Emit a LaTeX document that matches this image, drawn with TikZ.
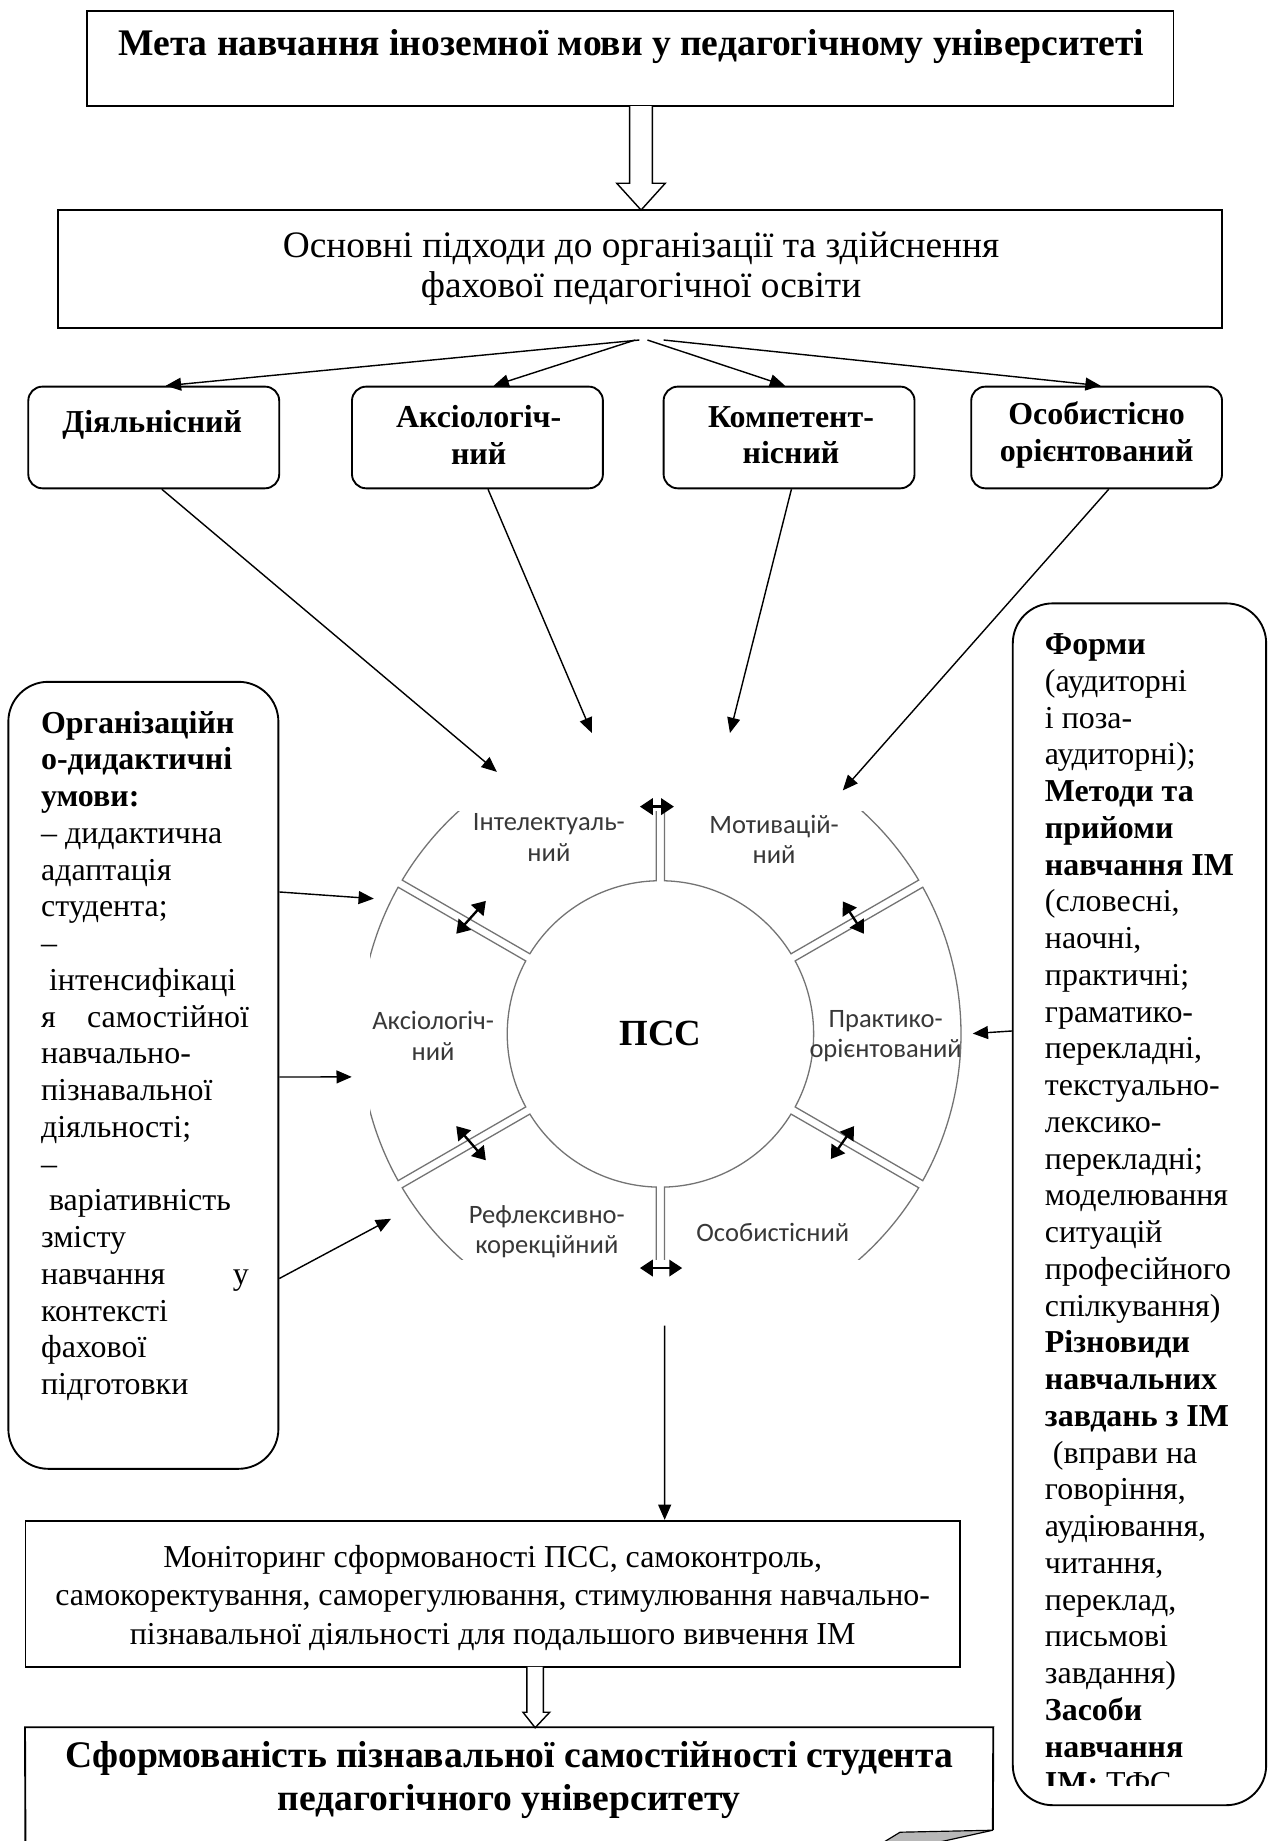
\documentclass[tikz,border=0pt]{standalone}
\usepackage{fontspec}
\setmainfont{Liberation Serif}
\newfontfamily\calib{Carlito}
\usetikzlibrary{arrows.meta,calc,fit}
\tikzset{
  boxln/.style={draw, line width=0.8pt, inner sep=0pt},
  rnd/.style={boxln, rounded corners=6pt},
  bigrnd/.style={boxln, rounded corners=17pt},
  arr/.style={-{Triangle[length=6.5pt,width=5.5pt]}, line width=0.6pt},
  darr/.style={{Triangle[length=5.5pt,width=7pt]}-{Triangle[length=5.5pt,width=7pt]}, line width=1pt},
  seg/.style={draw=black!55, line width=0.55pt},
  lab/.style={font=\calib\fontsize{11.3}{12.9}\selectfont, text=black!78, align=center, inner sep=0pt},
  hollow/.style={draw, line width=0.6pt, fill=white},
  ttl/.style={font=\bfseries\fontsize{16}{18.3}\selectfont, align=center, inner sep=0pt},
  btxt/.style={font=\bfseries\fontsize{13.6}{15.6}\selectfont, align=center, inner sep=0pt},
  body/.style={font=\fontsize{13.6}{16.5}\selectfont, align=center, inner sep=0pt},
}
\begin{document}
\begin{tikzpicture}[x=0.5pt,y=-0.5pt]
\useasboundingbox (0,0) rectangle (1081,1568);
\fill[white] (0,0) rectangle (1081,1568);

% top boxes
\node[boxln, fit={(74.4,9.1) (999.5,90.3)}] (top) {};
\node[ttl] (toptxt) at (537.7,39.7) {Мета навчання іноземної мови у педагогічному університеті};
\node[boxln, fit={(49.6,178.9) (1040.9,279.1)}] (sec) {};
\node[font=\fontsize{15.9}{17}\selectfont, align=center, inner sep=0pt] (sectxt) at (546,228.5)
  {Основні підходи до організації та здійснення\\фахової педагогічної освіти};
\draw[hollow] (536.3,90.3) -- (536.3,156.1) -- (525.3,156.1) -- (546,178.9) -- (566.6,156.1) -- (555.6,156.1) -- (555.6,90.3);

% approach boxes
\node[rnd, fit={(24.1,329.3) (237.8,415.9)}] (b1) {};
\node[rnd, fit={(299.8,329.3) (513.5,415.9)}] (b2) {};
\node[rnd, fit={(565.2,329.3) (778.9,415.9)}] (b3) {};
\node[rnd, fit={(827.2,329.3) (1040.8,415.9)}] (b4) {};
\node[btxt] (t1) at (129.6,362) {Діяльнісний};
\node[btxt] (t2) at (407.7,370.5) {Аксіологіч-\\ний};
\node[btxt] (t3) at (673.7,370.5) {Компетент-\\нісний};
\node[btxt] (t4) at (934,370.5) {Особистісно\\орієнтований};

\coordinate (o1) at (544.5,289.6);
\coordinate (o2) at (541,289.6);
\coordinate (o3) at (551.4,289.6);
\coordinate (o4) at (565.2,289.6);
\draw[arr] (o1) -- ($(b1.north)+(10.3,0)$);
\draw[arr] (o2) -- ($(b2.north)+(13.8,0)$);
\draw[arr] (o3) -- ($(b3.north)+(-3.4,0)$);
\draw[arr] (o4) -- ($(b4.north)+(3.4,0)$);

% ring
\begin{scope}
  \clip (315.2,691.3) rectangle (1000,1072.4);
  \begin{scope}[shift={(562.5,880.6)}]
    \foreach \a in {30,90,...,330}{
      \pgfmathsetmacro\ao{\a+0.78}
      \pgfmathsetmacro\bo{\a+60-0.78}
      \pgfmathsetmacro\ai{\a+1.54}
      \pgfmathsetmacro\bi{\a+60-1.54}
      \draw[seg] (\ao:256) arc[start angle=\ao, end angle=\bo, radius=256]
        -- (\bi:130.5) arc[start angle=\bi, end angle=\ai, radius=130.5] -- cycle;
    }
  \end{scope}
\end{scope}
\node[circle, minimum size=130.5pt, inner sep=0pt, font=\bfseries\fontsize{15.7}{18}\selectfont] (pss) at (562.5,880.6) {ПСС};

\node[lab] (lInt) at (467.5,713.2) {Інтелектуаль-\\ний};
\node[lab] (lMot) at (659.3,715) {Мотивацій-\\ний};
\node[lab] (lAks) at (368.9,882.2) {Аксіологіч-\\ний};
\node[lab] (lPr) at (754.3,882.5) {Практико-\\орієнтований};
\node[lab] (lRef) at (465.7,1049) {Рефлексивно-\\корекційний};
\node[lab] (lOs) at (658.2,1049.8) {Особистісний};

% double arrows in the ring
\coordinate (dA1) at (545,687);   \coordinate (dA2) at (574,687);
\coordinate (dB1) at (545,1080);  \coordinate (dB2) at (581,1080);
\coordinate (dC1) at (388.6,795.3); \coordinate (dC2) at (413.8,767.3);
\coordinate (dD1) at (717.8,767.7); \coordinate (dD2) at (735.7,795.3);
\coordinate (dE1) at (388.6,959.1); \coordinate (dE2) at (413.8,988.2);
\coordinate (dF1) at (727.4,959.1); \coordinate (dF2) at (707.7,987.1);
\draw[darr] (dA1) -- (dA2);
\draw[darr] (dB1) -- (dB2);
\draw[darr] (dC1) -- (dC2);
\draw[darr] (dD1) -- (dD2);
\draw[darr] (dE1) -- (dE2);
\draw[darr] (dF1) -- (dF2);

% arrows from approaches to ring
\coordinate (e1) at (423.2,657.4);
\coordinate (e2) at (504.1,624.3);
\coordinate (e3) at (621.7,624.3);
\coordinate (e4) at (717.8,673.2);
\draw[arr] ($(b1.south)+(6.9,0)$) -- (e1);
\draw[arr] ($(b2.south)+(9,0)$) -- (e2);
\draw[arr] ($(b3.south)+(2,0)$) -- (e3);
\draw[arr] ($(b4.south)+(10.3,0)$) -- (e4);

% left box
\node[bigrnd, fit={(7.1,580.7) (237.1,1251)}] (lbox) {};
\node[anchor=base west, inner sep=0pt, font=\fontsize{13.6}{15.65}\selectfont] (ltxt) at (34.6,624.4)
{\parbox[t]{88.5pt}{\raggedright\hyphenpenalty=10000\exhyphenpenalty=10000
\textbf{Організаційн}\\
\textbf{о-дидактичні}\\
\textbf{умови:}\\
– дидактична\\
адаптація\\
студента;\\
–\\
\hspace*{0.25em}інтенсифікаці\\
я\hfill самостійної\\
навчально-\\
пізнавальної\\
діяльності;\\
–\\
\hspace*{0.25em}варіативність\\
змісту\\
навчання\hfill у\\
контексті\\
фахової\\
підготовки}};
\coordinate (f1) at (318.4,765.4);
\coordinate (f2) at (299.6,917.2);
\coordinate (f3) at (333.1,1038);
\draw[arr] ($(lbox.north east)+(0,179.8)$) -- (f1);
\draw[arr] ($(lbox.north east)+(0,337.4)$) -- (f2);
\draw[arr] ($(lbox.north east)+(0,509)$) -- (f3);

% right box
\node[bigrnd, fit={(862.6,513.9) (1078.4,1537.5)}] (rbox) {};
\begin{scope}
\clip (862,500) rectangle (1079,1521);
\node[anchor=base west, inner sep=0pt, font=\fontsize{13.6}{15.65}\selectfont] (rtxt) at (889.6,557.6)
{\parbox[t]{95pt}{\raggedright\hyphenpenalty=10000\exhyphenpenalty=10000
\textbf{Форми}\\
(аудиторні\\
і поза-\\
аудиторні);\\
\textbf{Методи та}\\
\textbf{прийоми}\\
\textbf{навчання ІМ}\\
(словесні,\\
наочні,\\
практичні;\\
граматико-\\
перекладні,\\
текстуально-\\
лексико-\\
перекладні;\\
моделювання\\
ситуацій\\
професійного\\
спілкування)\\
\textbf{Різновиди}\\
\textbf{навчальних}\\
\textbf{завдань з ІМ}\\
\hspace*{0.25em}(вправи на\\
говоріння,\\
аудіювання,\\
читання,\\
переклад,\\
письмові\\
завдання)\\
\textbf{Засоби}\\
\textbf{навчання}\\
\textbf{ІМ:} ТФС}};
\end{scope}
\coordinate (g1) at (828.5,880.3);
\draw[arr] ($(rbox.north west)+(0,365)$) -- (g1);

% monitoring
\node[boxln, fit={(21.7,1295.3) (817.5,1419.6)}] (mon) {};
\node[body] (montxt) at (419.6,1361)
  {Моніторинг сформованості ПСС, самоконтроль,\\самокоректування, саморегулювання, стимулювання навчально-\\пізнавальної діяльності для подальшого вивчення ІМ};
\coordinate (dstart) at (566.1,1129);
\draw[arr] (dstart) -- ($(mon.north)+(146.5,0)$);
\draw[hollow] (448.7,1419.6) -- (448.7,1458.3) -- (445.4,1458.3) -- (455.8,1471.5) -- (468.2,1458.3) -- (462.8,1458.3) -- (462.8,1419.6);

% bottom box
\node[inner sep=0pt, fit={(21.7,1471.5) (845.6,1568)}] (bot) {};
\draw[line width=0.8pt] (21.7,1580) -- (bot.north west) -- (bot.north east) -- (845.6,1558.8);
\filldraw[fill=black!28, draw=black, line width=0.5pt] (751,1570) -- (766.6,1560.5) -- (845.6,1558.8) -- (795,1570) -- cycle;
\node[ttl] (bottxt) at (433.8,1516.3) {Сформованість пізнавальної самостійності студента\\педагогічного університету};
\end{tikzpicture}
\end{document}
